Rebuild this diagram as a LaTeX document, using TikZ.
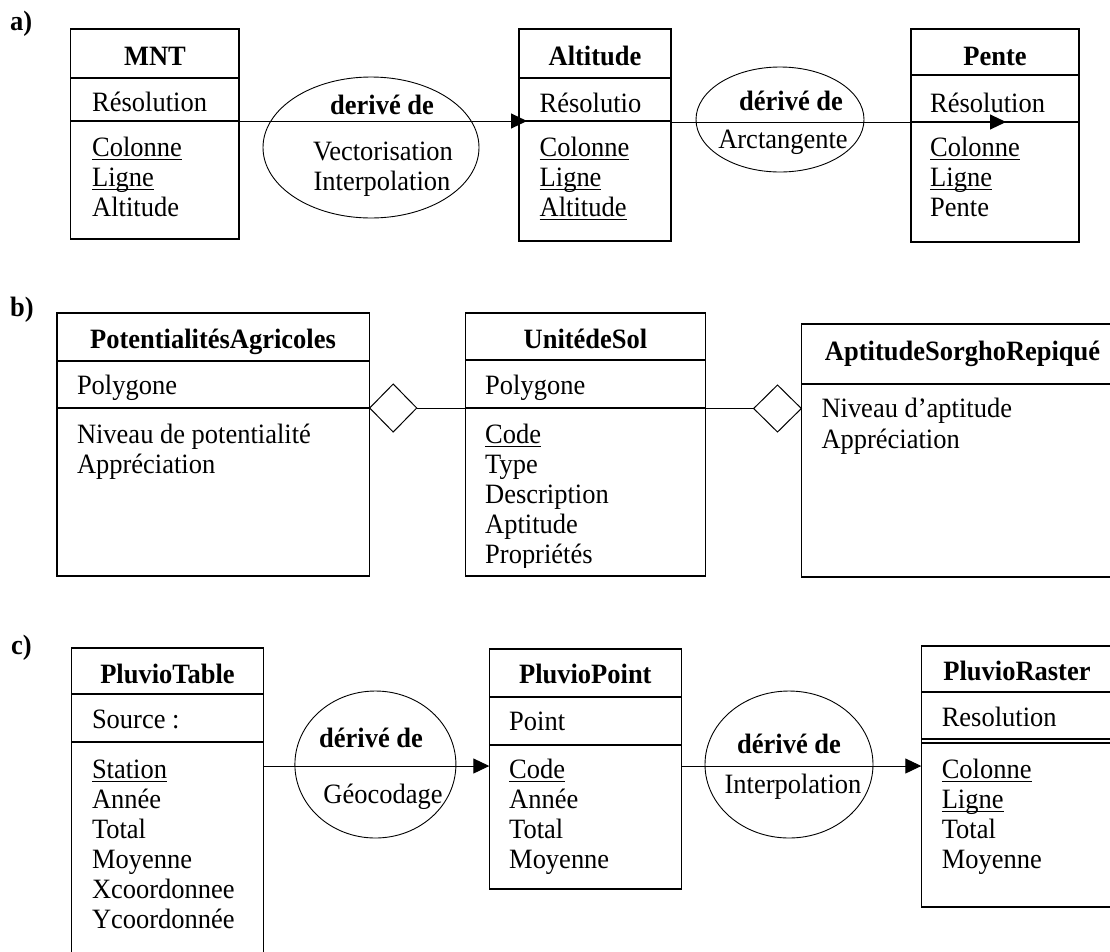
\documentclass[tikz,border=0pt]{standalone}
\usepackage{fontspec}
\setmainfont{Liberation Serif}[FakeStretch=0.946]
\usetikzlibrary{arrows.meta,shapes.geometric}
% underline drawn as a rule just below the baseline
\newsavebox\ulbox
\newcommand\ulin[1]{\sbox\ulbox{#1}\rlap{\rule[-4.4pt]{\wd\ulbox}{1.9pt}}\usebox\ulbox}
\tikzset{
  classbox/.style={draw, rectangle, line width=1.2pt, inner sep=0pt, outer sep=0pt, anchor=north west},
  divline/.style={line width=1.2pt},
  derive/.style={draw, ellipse, line width=0.9pt, inner sep=0pt, outer sep=0pt},
  aggr/.style={draw, diamond, line width=1pt, inner sep=0pt, outer sep=0pt},
  conn/.style={line width=1pt, -{Triangle[length=16pt,width=15pt]}},
  link/.style={line width=1pt},
  title/.style={anchor=base, inner sep=0pt, font=\bfseries},
  attr/.style={anchor=base west, inner sep=0pt},
  lbl/.style={anchor=base, inner sep=0pt},
  tag/.style={anchor=base west, inner sep=0pt, font=\bfseries},
}
\begin{document}
\fontsize{28}{30}\selectfont
\begin{tikzpicture}[x=1pt,y=-1pt]
\fill[white] (0,0) rectangle (1110,951);
\useasboundingbox (0,0) rectangle (1110,951);

% ---------------- a) raster derivation chain ----------------
\node[tag] (lab-a) at (10,30) {a)};

\node[derive, minimum width=216pt, minimum height=141pt] (e1) at (371,147.5) {};
\node[derive, minimum width=168pt, minimum height=105pt] (e2) at (780,119.5) {};

\node[classbox, minimum width=168.3pt, minimum height=210pt] (mnt) at (70.7,29) {};
\draw[divline] ([yshift=-49pt]mnt.north west) -- ([yshift=-49pt]mnt.north east);
\draw[divline] ([yshift=-92pt]mnt.north west) -- ([yshift=-92pt]mnt.north east);

\node[classbox, minimum width=152pt, minimum height=212pt] (alt) at (519,29) {};
\draw[divline] ([yshift=-49pt]alt.north west) -- ([yshift=-49pt]alt.north east);
\draw[divline] ([yshift=-92pt]alt.north west) -- ([yshift=-92pt]alt.north east);

\node[classbox, minimum width=168pt, minimum height=213pt] (pente) at (911,29) {};
\draw[divline] ([yshift=-46pt]pente.north west) -- ([yshift=-46pt]pente.north east);
\draw[divline] ([yshift=-93pt]pente.north west) -- ([yshift=-93pt]pente.north east);

\draw[conn, shorten >=-8pt] ([yshift=-92pt]mnt.north east) -- ([yshift=-92pt]alt.north west);
\draw[conn, shorten >=-95pt] ([yshift=-93pt]alt.north east) -- ([yshift=-93pt]pente.north west);

\node[title] (mnt-t) at (155,65) {MNT};
\node[attr] (mnt-r) at (92,111) {Résolution};
\foreach \t [count=\i] in {\ulin{Colonne},\ulin{Ligne},Altitude}
  \node[attr] (mnt-a\i) at (92,{126+30*\i}) {\t};

\node[title] (alt-t) at (595,65) {Altitude};
\node[attr] (alt-r) at (539.5,112) {Résolutio};
\foreach \t [count=\i] in {\ulin{Colonne},\ulin{Ligne},\ulin{Altitude}}
  \node[attr] (alt-a\i) at (539.5,{126+30*\i}) {\t};

\node[title] (pente-t) at (995,65) {Pente};
\node[attr] (pente-r) at (930,112) {Résolution};
\foreach \t [count=\i] in {\ulin{Colonne},\ulin{Ligne},Pente}
  \node[attr] (pente-a\i) at (930,{126+30*\i}) {\t};

\node[lbl, font=\bfseries] (e1-t) at (382,114) {derivé de};
\node[lbl] (e1-a) at (383,160) {Vectorisation};
\node[lbl] (e1-b) at (382,190) {Interpolation};
\node[lbl, font=\bfseries] (e2-t) at (791,110) {dérivé de};
\node[lbl] (e2-a) at (783,148) {Arctangente};

% ---------------- b) aggregation of soil units ----------------
\node[tag] (lab-b) at (10,316) {b)};

\node[classbox, minimum width=312.6pt, minimum height=263pt] (pa) at (57,313) {};
\draw[divline] ([yshift=-48pt]pa.north west) -- ([yshift=-48pt]pa.north east);
\draw[divline] ([yshift=-95pt]pa.north west) -- ([yshift=-95pt]pa.north east);

\node[classbox, minimum width=240.2pt, minimum height=263pt] (us) at (465.4,313) {};
\draw[divline] ([yshift=-47pt]us.north west) -- ([yshift=-47pt]us.north east);
\draw[divline] ([yshift=-95pt]us.north west) -- ([yshift=-95pt]us.north east);

\node[classbox, minimum width=330pt, minimum height=253pt] (asr) at (801.3,324) {};
\draw[divline] ([yshift=-60pt]asr.north west) -- ([yshift=-60pt]asr.north east);

\node[aggr, minimum width=47pt, minimum height=48pt] (d1) at (393.2,408) {};
\node[aggr, minimum width=47.7pt, minimum height=47pt] (d2) at (777.5,408.5) {};
\draw[link] (d1.east) -- (d1.east -| us.west);
\draw[link] (d2.west -| us.east) -- (d2.west);

\node[title] (pa-t) at (213,348) {PotentialitésAgricoles};
\node[attr] (pa-g) at (76.8,394) {Polygone};
\node[attr] (pa-a1) at (76.8,443) {Niveau de potentialité};
\node[attr] (pa-a2) at (76.8,473) {Appréciation};

\node[title] (us-t) at (585.5,348) {UnitédeSol};
\node[attr] (us-g) at (485,394) {Polygone};
\begin{scope}
  \clip (us.north west) rectangle ([yshift=9pt]us.south east);
  \foreach \t [count=\i] in {\ulin{Code},Type,Description,Aptitude,Propriétés}
    \node[attr] (us-a\i) at (485,{413+30*\i}) {\t};
\end{scope}

\node[title] (asr-t) at (962.6,360) {AptitudeSorghoRepiqué};
\node[attr] (asr-a1) at (821.3,417) {Niveau d’aptitude};
\node[attr] (asr-a2) at (821.3,448) {Appréciation};

% ---------------- c) rainfall data chain ----------------
\node[tag] (lab-c) at (11,654) {c)};

\node[derive, minimum width=161pt, minimum height=147pt] (e3) at (375.4,764.5) {};
\node[derive, minimum width=168pt, minimum height=147pt] (e4) at (789,764.5) {};

\node[classbox, minimum width=192.2pt, minimum height=320pt] (pt) at (71.4,648) {};
\draw[divline] ([yshift=-46pt]pt.north west) -- ([yshift=-46pt]pt.north east);
\draw[divline] ([yshift=-94pt]pt.north west) -- ([yshift=-94pt]pt.north east);

\node[classbox, minimum width=192.1pt, minimum height=240pt] (pp) at (489.3,649) {};
\draw[divline] ([yshift=-48pt]pp.north west) -- ([yshift=-48pt]pp.north east);
\draw[divline] ([yshift=-96pt]pp.north west) -- ([yshift=-96pt]pp.north east);

\node[classbox, minimum width=210pt, minimum height=261pt] (pr) at (921.3,646) {};
\draw[divline] ([yshift=-46pt]pr.north west) -- ([yshift=-46pt]pr.north east);
\draw[divline] ([yshift=-93pt]pr.north west) -- ([yshift=-93pt]pr.north east);
\draw[divline] ([yshift=-97pt]pr.north west) -- ([yshift=-97pt]pr.north east);

\draw[conn] ([yshift=-118pt]pt.north east) -- ([yshift=-117pt]pp.north west);
\draw[conn] ([yshift=-117pt]pp.north east) -- ([yshift=-120pt]pr.north west);

\node[title] (pt-t) at (167.5,683) {PluvioTable};
\node[attr] (pt-s) at (91.8,728) {Source :};
\foreach \t [count=\i] in {\ulin{Station},Année,Total,Moyenne,Xcoordonnee,Ycoordonnée}
  \node[attr] (pt-a\i) at (91.8,{748+30*\i}) {\t};

\node[title] (pp-t) at (585.3,683) {PluvioPoint};
\node[attr] (pp-p) at (509,730) {Point};
\foreach \t [count=\i] in {\ulin{Code},Année,Total,Moyenne}
  \node[attr] (pp-a\i) at (509,{748+30*\i}) {\t};

\node[title] (pr-t) at (1017,680) {PluvioRaster};
\node[attr] (pr-r) at (941.6,726) {Resolution};
\foreach \t [count=\i] in {\ulin{Colonne},\ulin{Ligne},Total,Moyenne}
  \node[attr] (pr-a\i) at (941.6,{748+30*\i}) {\t};

\node[lbl, font=\bfseries] (e3-t) at (371,747) {dérivé de};
\node[lbl] (e3-a) at (383,803) {Géocodage};
\node[lbl, font=\bfseries] (e4-t) at (789,753) {dérivé de};
\node[lbl] (e4-a) at (793,793) {Interpolation};
\end{tikzpicture}
\end{document}
